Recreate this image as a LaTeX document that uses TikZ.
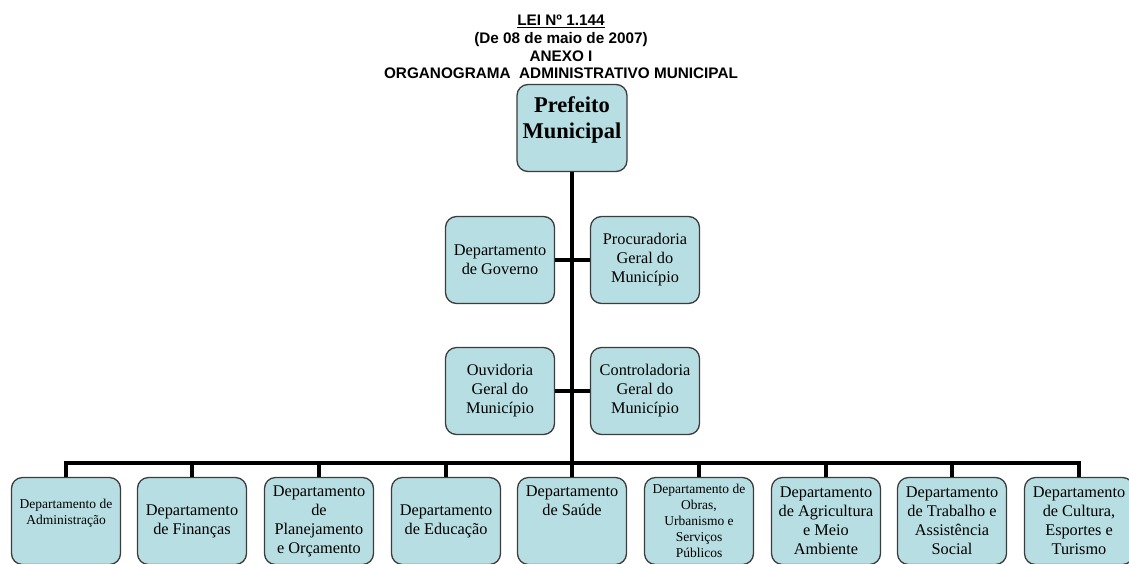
\documentclass[tikz,border=0pt]{standalone}
\usepackage{fontspec}
\setmainfont{Liberation Serif}
\newfontfamily\titlefont{Liberation Sans}
\usepackage{tikz}
\definecolor{boxblue}{RGB}{183,222,226}
\definecolor{boxline}{RGB}{60,60,60}
\tikzstyle{orgbox}=[draw=boxline,%
                    line width=1.3pt,%
                    fill=boxblue,%
                    rounded corners=11pt,%
                    rectangle,%
                    align=center,%
                    inner sep=2pt,%
                    minimum width=109pt,%
                    minimum height=87pt,%
                    font=\fontsize{16.3}{19}\selectfont]
\tikzstyle{smalltext}=[font=\fontsize{13.5}{16}\selectfont]
\tikzstyle{link}=[draw,black,line width=3.2pt]
\tikzstyle{titletext}=[align=center,font=\titlefont\bfseries\fontsize{15.3}{17.8}\selectfont]

\begin{document}
\begin{tikzpicture}[x=1pt,y=-1pt]
            \useasboundingbox (0,0) rectangle (1129,563);
            % title
            \node[titletext] (title) at (561,47) {\underline{LEI Nº 1.144}\\(De 08 de maio de 2007)\\ANEXO I\\ORGANOGRAMA\ \ ADMINISTRATIVO MUNICIPAL};
            % top of the chart
            \node[orgbox,minimum width=110pt,text depth=21pt,font=\bfseries\fontsize{22.5}{26}\selectfont] (pref) at (572,128) {Prefeito\\Municipal};
            \node[orgbox] (gov)  at (500,260) {Departamento\\de Governo};
            \node[orgbox] (proc) at (645,260) {Procuradoria\\Geral do\\Município};
            \node[orgbox] (ouv)  at (500,391) {Ouvidoria\\Geral do\\Município};
            \node[orgbox] (cont) at (645,391) {Controladoria\\Geral do\\Município};
            % departments
            \node[orgbox,smalltext,text depth=18pt] (adm) at (66,521) {Departamento de\\Administração};
            \node[orgbox] (fin) at (192,521) {Departamento\\de Finanças};
            \node[orgbox] (plan) at (319,521) {Departamento\\de\\Planejamento\\e Orçamento};
            \node[orgbox] (edu) at (446,521) {Departamento\\de Educação};
            \node[orgbox,text depth=40pt] (sau) at (572,521) {Departamento\\de Saúde};
            \node[orgbox,smalltext] (obr) at (699,521) {Departamento de\\Obras,\\Urbanismo e\\Serviços\\Públicos};
            \node[orgbox] (agr) at (826,521) {Departamento\\de Agricultura\\e Meio\\Ambiente};
            \node[orgbox] (trab) at (952,521) {Departamento\\de Trabalho e\\Assistência\\Social};
            \node[orgbox] (cult) at (1079,521) {Departamento\\de Cultura,\\Esportes e\\Turismo};
            \coordinate (bus) at (572,463);
            % lines
            \draw [link] (pref.south) -- (bus);
            \draw [link] (gov.east) -- (proc.west);
            \draw [link] (ouv.east) -- (cont.west);
            \draw [link] (adm.north) |- (bus) -| (cult.north);
            \foreach \d in {fin,plan,edu,sau,obr,agr,trab}
                \draw [link] (\d.north) -- (\d.north |- bus);
  \end{tikzpicture}
\end{document}
